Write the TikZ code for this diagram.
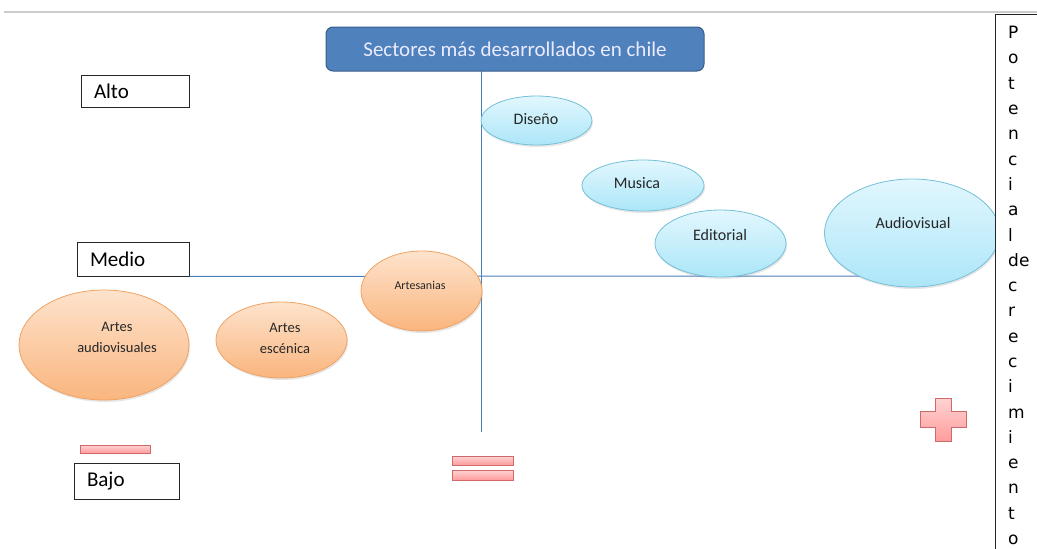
\documentclass[tikz,border=0pt]{standalone}
\usepackage{fontspec}
\setmainfont{Carlito}
\newfontfamily\potfont{DejaVu Sans}
\usepackage{tikz}
\usetikzlibrary{shapes}
\usetikzlibrary{positioning}
\usetikzlibrary{shadows}
\usepackage{xcolor}
\definecolor{azultitulo}{HTML}{4F81BD}
\definecolor{bordetitulo}{HTML}{385D8A}
\definecolor{eje}{HTML}{4A7EBB}
\definecolor{celesteA}{HTML}{E2F7FE}
\definecolor{celesteB}{HTML}{ACE6F8}
\definecolor{bordeceleste}{HTML}{75BFD8}
\definecolor{naranjaA}{HTML}{FDE3CC}
\definecolor{naranjaB}{HTML}{FAB57E}
\definecolor{bordenaranja}{HTML}{EFA263}
\definecolor{rosaA}{HTML}{FFD3D3}
\definecolor{rosaB}{HTML}{FF9C9C}
\definecolor{borderosa}{HTML}{D06A6A}
\tikzset{
  nivel/.style={draw=black!85, line width=0.8pt, rectangle, align=left, inner xsep=13pt,
    font=\fontsize{21}{24}\selectfont},
  celeste/.style={ellipse, draw=bordeceleste, line width=0.8pt, top color=celesteA,
    bottom color=celesteB, drop shadow={opacity=0.2, shadow xshift=1pt, shadow yshift=-2pt}},
  naranja/.style={ellipse, draw=bordenaranja, line width=0.8pt, top color=naranjaA,
    bottom color=naranjaB, drop shadow={opacity=0.2, shadow xshift=1pt, shadow yshift=-2pt}},
  rotulo/.style={text=black!85, align=center, font=\fontsize{16}{20}\selectfont},
  signo/.style={draw=borderosa, line width=0.8pt, top color=rosaA, bottom color=rosaB},
  linea eje/.style={draw=eje, line width=1pt}
}

\begin{document}
\begin{tikzpicture}[x=1pt, y=-1pt]
\useasboundingbox (0,0) rectangle (1037,549);
\draw[line width=2pt, black!20] (4,12) -- (1037,12);
\node[draw=bordetitulo, line width=1pt, fill=azultitulo, rounded corners=7pt, minimum width=378, minimum height=44,
  text=white!92!blue, font=\fontsize{21}{24}\selectfont] (titulo) at (515,49) {Sectores más desarrollados en chile};
\node[nivel, text width=82pt, minimum height=32] (alto) at (135,91) {Alto};
\node[nivel, text width=86pt, minimum height=34] (medio) at (133,259) {Medio};
\node[nivel, text width=79pt, minimum height=36] (bajo) at (126.5,481) {Bajo};
\coordinate (ejeN) at (481,71);
\coordinate (ejeS) at (481,432);
\coordinate (ejeE) at (880,276);
\draw[linea eje] (ejeN) -- (ejeS);
\draw[linea eje] (medio.south east) -- (ejeE);
\node[celeste, minimum width=111, minimum height=49] (diseno) at (536.5,120.5) {};
\node[rotulo] (diseno-t) at (536,119) {Diseño};
\node[celeste, minimum width=122, minimum height=51] (musica) at (643,185.5) {};
\node[rotulo] (musica-t) at (637,183) {Musica};
\node[celeste, minimum width=131, minimum height=67] (editorial) at (720.5,243.5) {};
\node[rotulo] (editorial-t) at (720,235) {Editorial};
\node[celeste, minimum width=175, minimum height=108] (audiovisual) at (912,233) {};
\node[rotulo] (audiovisual-t) at (913,223) {Audiovisual};
\node[naranja, minimum width=121, minimum height=80] (artesanias) at (421.5,291) {};
\node[rotulo, font=\fontsize{12}{14}\selectfont] (artesanias-t) at (420,285) {Artesanias};
\node[naranja, minimum width=170, minimum height=110] (artesaudio) at (104,345) {};
\node[rotulo, font=\fontsize{14.5}{21}\selectfont] (artesaudio-t) at (117,337) {Artes\\audiovisuales};
\node[naranja, minimum width=131, minimum height=76] (escenica) at (281.5,340) {};
\node[rotulo, font=\fontsize{14.5}{21}\selectfont] (escenica-t) at (285,338) {Artes\\escénica};
\node[draw=black!85, line width=0.8pt, fill=white, anchor=north west, minimum width=60, minimum height=560] (potencial) at (995,14) {};
\node[anchor=north west, inner sep=0pt, align=left, font=\potfont\fontsize{17}{25.3}\selectfont] (letras) at (1008,26)
  {P\\o\\t\\e\\n\\c\\i\\a\\l\\de\\c\\r\\e\\c\\i\\m\\i\\e\\n\\t\\o};
\filldraw[signo] (80,445) rectangle (150,453);
\filldraw[signo] (452,456) rectangle (513,465);
\filldraw[signo] (452,470) rectangle (513,480);
\filldraw[signo] (935,398) -- (951,398) -- (951,411) -- (966,411) -- (966,427) -- (951,427) -- (951,441)
  -- (935,441) -- (935,427) -- (920,427) -- (920,411) -- (935,411) -- cycle;
\end{tikzpicture}
\end{document}
